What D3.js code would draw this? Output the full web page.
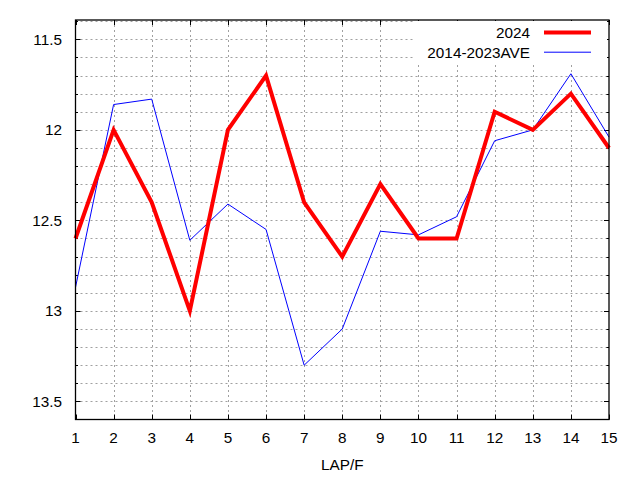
<!DOCTYPE html>
<html><head><meta charset="utf-8">
<script src="https://cdn.jsdelivr.net/npm/d3@7"></script>
<style>body{margin:0;background:#fff}svg{display:block}text{font-family:"Liberation Sans",Arial,sans-serif;fill:#000}</style>
</head><body>
<script>
const laps = [1,2,3,4,5,6,7,8,9,10,11,12,13,14,15];
const series2024 = [12.6,12.0,12.4,13.0,12.0,11.7,12.4,12.7,12.3,12.6,12.6,11.9,12.0,11.8,12.1];
const seriesAve = [12.87,11.86,11.83,12.61,12.41,12.55,13.3,13.1,12.56,12.58,12.48,12.06,12.0,11.69,12.04];
const yTickValues = [11.5,12,12.5,13,13.5];
const yTickLabels = ["11.5","12","12.5","13","13.5"];
const legendLabels = ["2024","2014-2023AVE"];
const xLabel = "LAP/F";

const W=640,H=480;
const L=75.5,R=609,T=20,B=419.5;
const svg=d3.select("body").append("svg").attr("width",W).attr("height",H);
const x=d3.scaleLinear().domain([1,15]).range([L,R]);
const y=d3.scaleLinear().domain([11.393,13.6]).range([T,B]);

const minorY=d3.range(114,137).map(v=>v/10).filter(v=>y(v)>T+1&&y(v)<B-1);
const grid=svg.append("g").attr("stroke","#a0a0a0").attr("stroke-width",1).attr("stroke-dasharray","2,3");
grid.selectAll(".gy").data(minorY).enter().append("line")
  .attr("x1",L).attr("x2",R).attr("y1",d=>Math.round(y(d))+0.5).attr("y2",d=>Math.round(y(d))+0.5);
grid.selectAll(".gx").data(laps.slice(1,-1)).enter().append("line")
  .attr("y1",T).attr("y2",B).attr("x1",d=>Math.round(x(d))+0.5).attr("x2",d=>Math.round(x(d))+0.5);

// ticks
const tk=svg.append("g").attr("stroke","#000").attr("stroke-width",1);
minorY.forEach(v=>{
  const major=yTickValues.some(t=>Math.abs(t-v)<1e-6);
  const len=major?5:2.5, yy=Math.round(y(v))+0.5;
  tk.append("line").attr("x1",L).attr("x2",L+len).attr("y1",yy).attr("y2",yy);
  tk.append("line").attr("x1",R).attr("x2",R-len).attr("y1",yy).attr("y2",yy);
});
laps.forEach(v=>{
  const xx=Math.round(x(v))+0.5;
  tk.append("line").attr("x1",xx).attr("x2",xx).attr("y1",B).attr("y2",B-5);
  tk.append("line").attr("x1",xx).attr("x2",xx).attr("y1",T).attr("y2",T+5);
});

// data
const line=d3.line().x((d,i)=>x(laps[i])).y(d=>y(d));
const plot=svg.append("g");
plot.append("path").datum(seriesAve).attr("d",line).attr("fill","none").attr("stroke","#0000ff").attr("stroke-width",1);
plot.append("path").datum(series2024).attr("d",line).attr("fill","none").attr("stroke","#ff0000").attr("stroke-width",4).attr("stroke-linejoin","miter");

// legend
svg.append("rect").attr("x",413).attr("y",T+1).attr("width",R-413-2).attr("height",42).attr("fill","#fff");
const lg=svg.append("g");
legendLabels.forEach((t,i)=>{
  const yy=32.5+i*19.7;
  lg.append("text").attr("x",530).attr("y",yy).attr("dy","0.35em").attr("text-anchor","end").attr("font-size",15.3).text(t);
  lg.append("line").attr("x1",544).attr("x2",591).attr("y1",yy).attr("y2",yy)
    .attr("stroke",i==0?"#ff0000":"#0000ff").attr("stroke-width",i==0?4:1);
});

// border
svg.append("rect").attr("x",L).attr("y",T).attr("width",R-L).attr("height",B-T).attr("fill","none").attr("stroke","#000").attr("stroke-width",1.3);

// labels
svg.append("g").selectAll("text").data(yTickValues).enter().append("text")
  .attr("x",62).attr("y",d=>y(d)).attr("dy","0.35em").attr("text-anchor","end").attr("font-size",15.3)
  .text((d,i)=>yTickLabels[i]);
svg.append("g").selectAll("text").data(laps).enter().append("text")
  .attr("x",d=>x(d)).attr("y",438).attr("dy","0.35em").attr("text-anchor","middle").attr("font-size",15.3)
  .text(d=>d);
svg.append("text").attr("x",(L+R)/2).attr("y",465).attr("dy","0.35em").attr("text-anchor","middle").attr("font-size",15.3).text(xLabel);
</script>
</body></html>
